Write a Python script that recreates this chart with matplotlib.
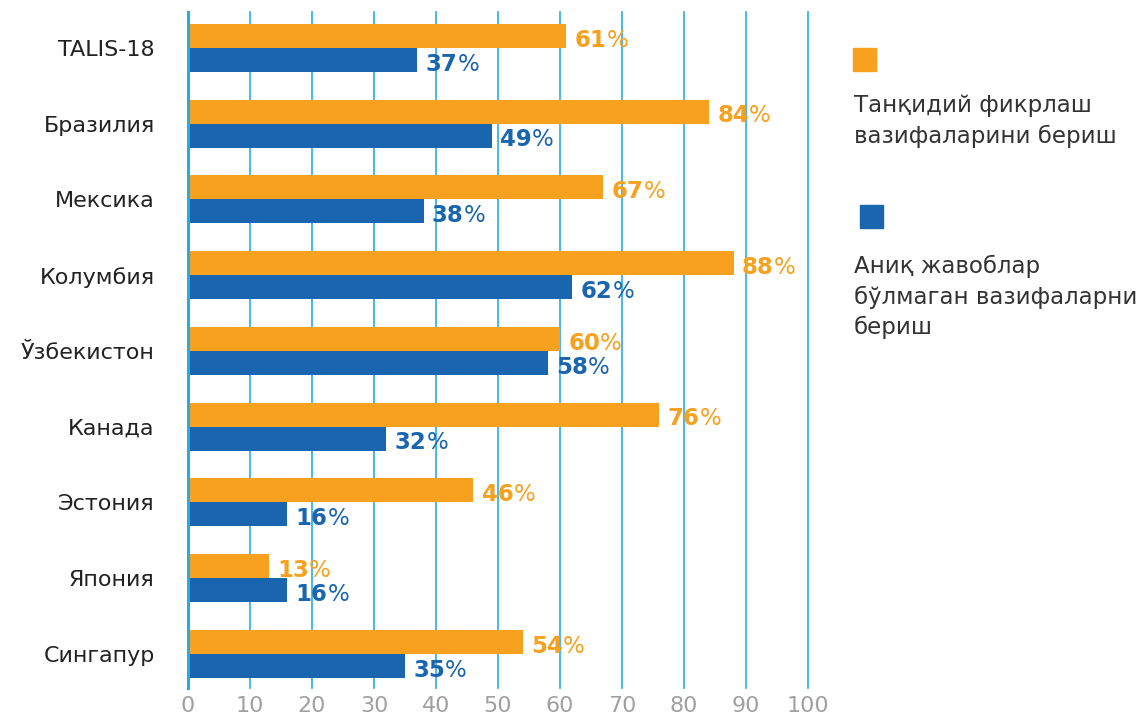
import numpy as np
import matplotlib.pyplot as plt
from matplotlib.patches import Rectangle

# Data
countries = ['TALIS-18', 'Бразилия', 'Мексика', 'Колумбия', 'Ўзбекистон',
             'Канада', 'Эстония', 'Япония', 'Сингапур']
critical_tasks = [61, 84, 67, 88, 60, 76, 46, 13, 54]
open_tasks = [37, 49, 38, 62, 58, 32, 16, 16, 35]
series_names = ['Танқидий фикрлаш\nвазифаларини бериш',
                'Аниқ жавоблар\nбўлмаган вазифаларни\nбериш']
x_ticks = [0, 10, 20, 30, 40, 50, 60, 70, 80, 90, 100]

ORANGE = '#F7A11E'
BLUE = '#1A65AF'
GRID = '#29ABE2'
W, H = 1148, 716


def add_value_labels(ax, values, ypos, color):
    """Bold number followed by a normal-weight percent sign"""
    for v, yy in zip(values, ypos):
        t = ax.annotate(str(v), xy=(v, yy), xytext=(6, -3),
                        textcoords='offset points', ha='left', va='center',
                        fontsize=16.5, fontweight='bold', color=color)
        ax.annotate('%', xy=(1, 0), xycoords=t, ha='left', va='bottom',
                    fontsize=16.5, color=color)


def create_chart(output_file):
    fig = plt.figure(figsize=(W / 100, H / 100), dpi=100)
    ax = fig.add_axes([188 / W, 1 - 688 / H, 620 / W, 676 / H])

    y = np.arange(len(countries))
    h = 0.317
    ax.barh(y - h / 2, critical_tasks, height=h, color=ORANGE, zorder=2)
    ax.barh(y + h / 2, open_tasks, height=h, color=BLUE, zorder=2)

    ax.set_xlim(0, 100)
    ax.set_ylim(len(countries) - 1 + 0.45, -0.475)

    ax.set_xticks(x_ticks)
    ax.set_yticks(y, countries)
    ax.tick_params(axis='y', length=0, pad=24, labelsize=16, labelcolor='#222222')
    ax.tick_params(axis='x', length=0, pad=6, labelsize=16, labelcolor='#a0a0a0')
    ax.grid(axis='x', color=GRID, lw=1.2, zorder=0)
    for gl in ax.get_xgridlines():
        gl.set_clip_on(False)
    ax.set_axisbelow(True)
    for s in ['top', 'right', 'bottom']:
        ax.spines[s].set_visible(False)
    ax.spines['left'].set_color(GRID)
    ax.spines['left'].set_linewidth(2.2)

    add_value_labels(ax, critical_tasks, y - h / 2, ORANGE)
    add_value_labels(ax, open_tasks, y + h / 2, BLUE)

    # legend drawn by hand on the right
    fig.add_artist(Rectangle((853 / W, 1 - 71 / H), 23 / W, 23 / H,
                             transform=fig.transFigure, color=ORANGE))
    fig.add_artist(Rectangle((860 / W, 1 - 228 / H), 23 / W, 23 / H,
                             transform=fig.transFigure, color=BLUE))
    fig.text(854 / W, 1 - 94 / H, series_names[0], ha='left', va='top',
             fontsize=16.5, color='#333333', linespacing=1.4)
    fig.text(854 / W, 1 - 255 / H, series_names[1], ha='left', va='top',
             fontsize=16.5, color='#333333', linespacing=1.4)

    fig.savefig(output_file, dpi=100)
    plt.close(fig)


if __name__ == "__main__":
    create_chart('out.png')
